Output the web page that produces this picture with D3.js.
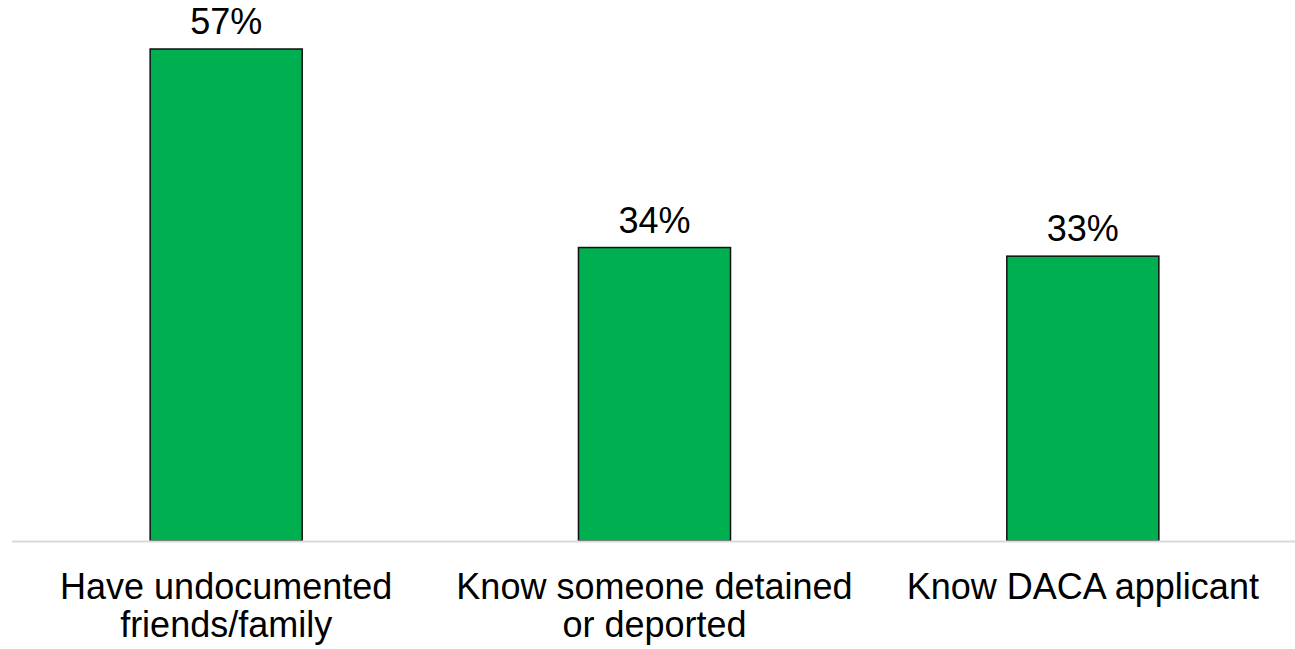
<!DOCTYPE html>
<html><head><meta charset="utf-8">
<script src="https://cdn.jsdelivr.net/npm/d3@7"></script>
<style>html,body{margin:0;padding:0;background:#fff;}svg{display:block;}</style>
</head><body>
<script>
const categories = [["Have undocumented","friends/family"],["Know someone detained","or deported"],["Know DACA applicant"]];
const values = [57, 34, 33];
const valueLabels = ["57%", "34%", "33%"];

const W = 1295, H = 649;
const svg = d3.select("body").append("svg").attr("width", W).attr("height", H);
const font = "'Liberation Sans', Arial, sans-serif";

const x = d3.scaleBand().domain(d3.range(values.length)).range([12, 1297])
  .paddingInner(0.645).paddingOuter(0.3225);
const y = d3.scaleLinear().domain([0, 57]).range([541, 49]);

svg.selectAll("rect.bar").data(values).join("rect")
  .attr("class","bar")
  .attr("x", (d,i) => x(i))
  .attr("y", d => y(d))
  .attr("width", x.bandwidth())
  .attr("height", d => y(0) - y(d))
  .attr("fill", "#00b050")
  .attr("stroke", "#111")
  .attr("stroke-width", 1.5);

svg.append("line")
  .attr("x1", 12).attr("x2", W).attr("y1", y(0)+0.5).attr("y2", y(0)+0.5)
  .attr("stroke", "#d9d9d9").attr("stroke-width", 2);

svg.selectAll("text.val").data(values).join("text")
  .attr("class","val")
  .attr("x", (d,i) => x(i) + x.bandwidth()/2)
  .attr("y", d => y(d) - 15)
  .attr("text-anchor","middle")
  .attr("font-family", font).attr("font-size", 36).attr("fill","#000")
  .text((d,i) => valueLabels[i]);

const cat = svg.selectAll("text.cat").data(categories).join("text")
  .attr("class","cat")
  .attr("text-anchor","middle")
  .attr("font-family", font).attr("font-size", 36).attr("fill","#000");
cat.each(function(lines, i){
  const t = d3.select(this);
  lines.forEach((l, j) => {
    t.append("tspan").attr("x", x(i) + x.bandwidth()/2).attr("y", 599 + j*38).text(l);
  });
});
</script>
</body></html>
